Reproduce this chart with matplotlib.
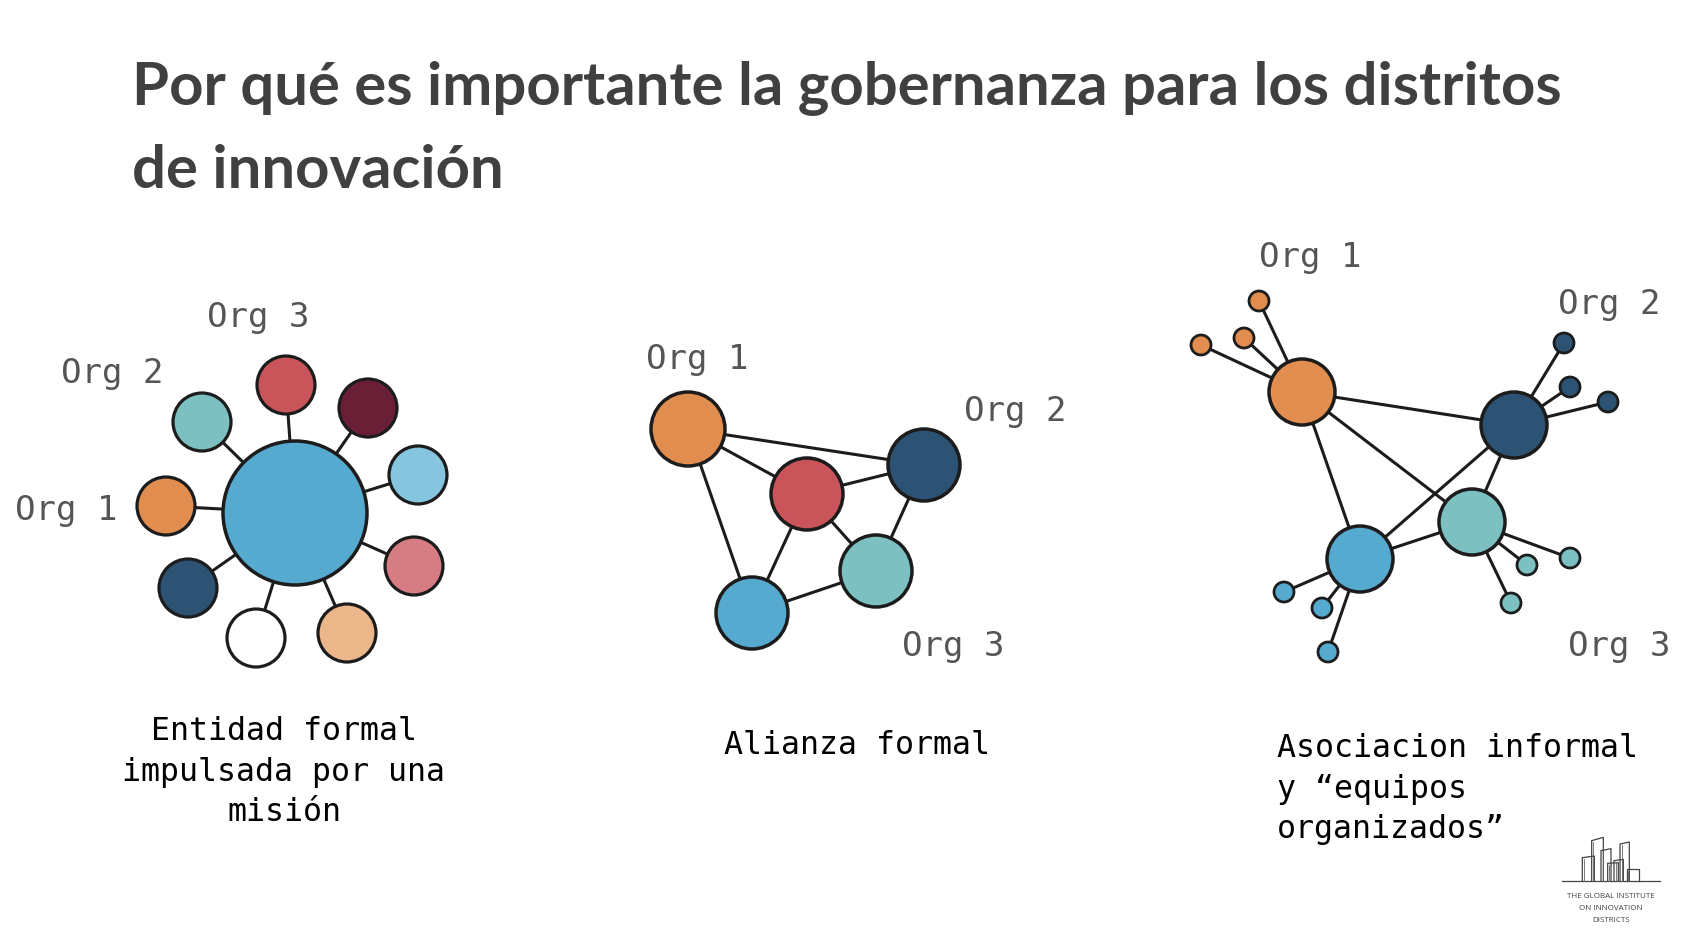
import matplotlib.pyplot as plt
from matplotlib.patches import Circle

# Page layout in pixels (figure is 1694 x 946)
W, H = 1694, 946

TITLE_LINES = ["Por qué es importante la gobernanza para los distritos",
               "de innovación"]

EDGE = "#1c1c1c"
LABEL_GREY = "#555555"

# --- Diagram 1: formal entity (hub and spokes)
hub_x, hub_y, hub_r = 295, 513, 72
hub_color = "#56a9cf"
sat_x = [166, 202, 286, 368, 418, 414, 347, 256, 188]
sat_y = [506, 422, 385, 408, 475, 566, 633, 638, 588]
sat_r = 29
sat_colors = ["#e08d4f", "#7cc0c1", "#c9555b", "#6a1f36", "#86c5df",
              "#d67d83", "#ecb68b", "#ffffff", "#2c5373"]
d1_labels = ["Org 1", "Org 2", "Org 3"]
d1_label_xy = [(66, 510), (112, 373), (258, 317)]

# --- Diagram 2: formal alliance
d2_x = [688, 807, 924, 876, 752]
d2_y = [429, 494, 465, 571, 613]
d2_r = [37, 36, 36, 36, 36]
d2_colors = ["#e08d4f", "#c9555b", "#2c5373", "#7cc0c1", "#56a9cf"]
d2_edges = [(0, 2), (0, 1), (0, 4), (1, 2), (1, 3), (1, 4), (2, 3), (3, 4)]
d2_labels = ["Org 1", "Org 2", "Org 3"]
d2_label_xy = [(697, 359), (1015, 411), (953, 646)]

# --- Diagram 3: informal association
d3_x = [1302, 1514, 1472, 1360]
d3_y = [392, 425, 522, 559]
d3_r = 33
d3_colors = ["#e08d4f", "#2c5373", "#7cc0c1", "#56a9cf"]
d3_edges = [(0, 1), (0, 2), (0, 3), (1, 3), (1, 2), (2, 3)]
# small satellites: parent index, x, y
d3_small_parent = [0, 0, 0, 1, 1, 1, 2, 2, 2, 3, 3, 3]
d3_small_x = [1259, 1244, 1201, 1564, 1570, 1608, 1527, 1570, 1511, 1284, 1322, 1328]
d3_small_y = [301, 338, 345, 343, 387, 402, 565, 558, 603, 592, 608, 652]
d3_small_r = 10
d3_labels = ["Org 1", "Org 2", "Org 3"]
d3_label_xy = [(1310, 257), (1609, 304), (1619, 646)]

captions = ["Entidad formal\nimpulsada por una\nmisión",
            "Alianza formal",
            "Asociacion informal\ny “equipos\norganizados”"]

# logo buildings (outline tops), in logo-local units
bld_left = [127, 155, 183, 203, 222, 240, 260]
bld_right = [163, 190, 213, 235, 250, 268, 298]
bld_top_l = [113, 62, 92, 130, 122, 72, 148]
bld_top_r = [108, 52, 86, 128, 118, 66, 148]
logo_text = ["THE GLOBAL INSTITUTE", "ON INNOVATION", "DISTRICTS"]


def node(ax, x, y, r, color, lw=2.3):
    ax.add_patch(Circle((x, y), r, facecolor=color, edgecolor=EDGE,
                        linewidth=lw, zorder=3))


def edge(ax, x0, y0, x1, y1):
    ax.plot([x0, x1], [y0, y1], color=EDGE, linewidth=2.2, zorder=2,
            solid_capstyle="butt")


def org_labels(ax, labels, xy):
    for lab, (x, y) in zip(labels, xy):
        ax.text(x, y, lab, family="DejaVu Sans Mono", fontsize=24.5,
                color=LABEL_GREY, ha="center", va="center")


fig = plt.figure(figsize=(W / 100, H / 100), dpi=100)
ax = fig.add_axes([0, 0, 1, 1])
ax.set_xlim(0, W)
ax.set_ylim(H, 0)
ax.axis("off")

# Title, fitted to the width of the original
t1 = ax.text(132, 105, TITLE_LINES[0], fontsize=40, fontweight="bold",
             family="Lato", color="#404040", ha="left", va="baseline")
fig.canvas.draw()
bb = t1.get_window_extent()
fs = 40 * 1430 / bb.width
t1.set_fontsize(fs)
ax.text(132, 188, TITLE_LINES[1], fontsize=fs, fontweight="bold",
        family="Lato", color="#404040", ha="left", va="baseline")

# Diagram 1
for x, y in zip(sat_x, sat_y):
    edge(ax, hub_x, hub_y, x, y)
node(ax, hub_x, hub_y, hub_r, hub_color, lw=2.5)
for x, y, c in zip(sat_x, sat_y, sat_colors):
    node(ax, x, y, sat_r, c)
org_labels(ax, d1_labels, d1_label_xy)

# Diagram 2
for a, b in d2_edges:
    edge(ax, d2_x[a], d2_y[a], d2_x[b], d2_y[b])
for x, y, r, c in zip(d2_x, d2_y, d2_r, d2_colors):
    node(ax, x, y, r, c, lw=2.5)
org_labels(ax, d2_labels, d2_label_xy)

# Diagram 3
for a, b in d3_edges:
    edge(ax, d3_x[a], d3_y[a], d3_x[b], d3_y[b])
for p, x, y in zip(d3_small_parent, d3_small_x, d3_small_y):
    edge(ax, d3_x[p], d3_y[p], x, y)
    node(ax, x, y, d3_small_r, d3_colors[p], lw=2.0)
for x, y, c in zip(d3_x, d3_y, d3_colors):
    node(ax, x, y, d3_r, c, lw=2.5)
org_labels(ax, d3_labels, d3_label_xy)

# Captions
cap_kw = dict(family="DejaVu Sans Mono", fontsize=22.8, color="black",
              linespacing=1.38)
ax.text(284, 772, captions[0], ha="center", va="center", multialignment="center", **cap_kw)
ax.text(857, 745, captions[1], ha="center", va="center", **cap_kw)
ax.text(1277, 789, captions[2], ha="left", va="center", multialignment="left", **cap_kw)

# Logo
lx = lambda v: 1540 + v / 3
ly = lambda v: 820 + v / 3
ax.plot([lx(65), lx(360)], [ly(183), ly(183)], color="#444444", lw=0.9)
for l, r, tl, tr in zip(bld_left, bld_right, bld_top_l, bld_top_r):
    ax.plot([lx(l), lx(l), lx(r), lx(r)], [ly(183), ly(tl), ly(tr), ly(183)],
            color="#444444", lw=0.9)
    ax.plot([lx(l + 5), lx(l + 5)], [ly(183), ly(tl + 4)], color="#666666", lw=0.6)
for i, s in enumerate(logo_text):
    ax.text(lx(212), ly(228 + i * 37), s, fontsize=5.8, family="Open Sans",
            color="#444444", ha="center", va="center")

fig.savefig("out.png", dpi=100, facecolor="white")
